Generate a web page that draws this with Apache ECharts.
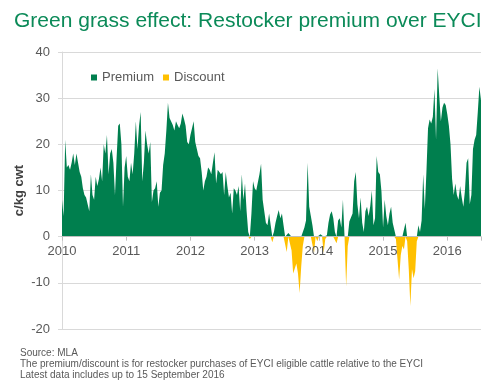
<!DOCTYPE html>
<html>
<head>
<meta charset="utf-8">
<script src="https://cdn.jsdelivr.net/npm/echarts@6/dist/echarts.min.js"></script>
<style>html,body{margin:0;padding:0;background:#fff;}#c{width:500px;height:390px;}</style>
</head>
<body>
<div id="c"></div>
<script>
// Restocker premium over EYCI (c/kg cwt), ~40 readings per year
const v2010 = [8,4.5,21,15,15.5,14.5,16,18,15.5,18,16,14,13,10.5,9,8.5,8.5,5.5,13.5,9,8,13,11,12.5,15,12,20,18,22,13.5,18,19,16,9,17,24,24.5,20,6.5,15];
const v2011 = [17.5,13,12,16,13.5,18,25,19,24,27,12,16,23,20,18,20.5,7.5,10,10.5,12,6.5,9.5,10,15.5,18,23,29,25.7,25.3,24.2,23,25,24.2,23.5,24.5,26.7,25.5,24,20.5,20];
const v2012 = [22,23.5,25,20.5,19,17.5,17,14,10,12,13,15,14.5,13.5,16,18.3,11.5,14.5,14,13.5,14,9,14,11,8.5,9.5,5,10.5,10,9,11,5.5,13.5,8,11.5,5.5,1,-0.5,5,12];
const v2013 = [10.5,10,10,13.5,15.8,8,5.5,3,2.5,5,2.5,-1.2,1,3,4.5,5.8,4,5,2.5,0,-3.3,0.8,0.5,-3,-8,-8,-5.8,-8,-12.2,-6.5,-2,2,3.5,16,6.5,4.5,2.5,-3.5,0,-1];
const v2014 = [0.3,0.5,0.5,-3.5,-0.5,0.3,3,4.8,5.5,4,1,-1.4,3.5,4,2,8,0,-10.8,-2,3.3,3.7,5,12,14,7,4,8.5,3,1,5.5,6.5,4.5,6.6,10,2.5,4,17.5,14,13.5,9.8];
const v2015 = [2,8,4.5,2.5,5,6.5,3,1.5,-0.5,-5,-9.3,-4,-2,-2.8,3,-1,-7,-15,-7,-9,-7.5,-1,2.5,1,3.5,13.5,6,14,23.5,25.4,24.5,26,32,21,36.5,30.5,25,28,29,28.5];
const v2016 = [26.5,24,20,12.5,9,11.5,9,8,11,8.5,6.5,10,16,17,7,9,19,21,22,27,32.5,29.5];

const years = [2010, 2011, 2012, 2013, 2014, 2015, 2016];
const yearValues = [v2010, v2011, v2012, v2013, v2014, v2015, v2016];
const perYear = 40;

const seriesNames = ['Premium', 'Discount'];
const yTicks = { min: -20, max: 40, step: 10 };
const xRange = { min: 2010, max: 2016.525 };

const points = [];
years.forEach((y, k) => {
  yearValues[k].forEach((v, i) => points.push([y + i / perYear, v]));
});
const premium = points.map(p => [p[0], Math.max(p[1], 0)]);
const discount = points.map(p => [p[0], Math.min(p[1], 0)]);

const gridTop = 52, gridBottom = 61, H = 390;
const plotH = H - gridTop - gridBottom;
// move the x axis (line, ticks and labels) up to the zero line
const zeroOffset = -plotH * (0 - yTicks.min) / (yTicks.max - yTicks.min);

const chart = echarts.init(document.getElementById('c'), null, { renderer: 'canvas' });
const grey = '#595959';
const ff = 'Liberation Sans, Arial, sans-serif';
chart.setOption({
  animation: false,
  backgroundColor: '#fff',
  title: {
    text: 'Green grass effect: Restocker premium over EYCI',
    left: 9, top: 6,
    textStyle: { color: '#0b8a58', fontSize: 21, fontWeight: 'normal', fontFamily: ff }
  },
  legend: {
    data: seriesNames,
    left: 86, top: 66,
    icon: 'rect', itemWidth: 6, itemHeight: 6, itemGap: 9,
    textStyle: { color: grey, fontSize: 13, fontFamily: ff }
  },
  grid: { left: 62, right: 19, top: gridTop, bottom: gridBottom, containLabel: false },
  xAxis: {
    type: 'value', min: xRange.min, max: xRange.max, interval: 1,
    offset: zeroOffset,
    axisLine: { onZero: false, lineStyle: { color: '#bfbfbf' } },
    axisTick: { show: true, length: 4, lineStyle: { color: '#bfbfbf' } },
    splitLine: { show: false },
    axisLabel: {
      color: grey, fontSize: 13, margin: 8, fontFamily: ff,
      formatter: v => (Math.abs(v - Math.round(v)) < 1e-6 ? String(Math.round(v)) : '')
    },
    z: 4
  },
  yAxis: {
    type: 'value', min: yTicks.min, max: yTicks.max, interval: yTicks.step,
    name: 'c/kg cwt', nameLocation: 'middle', nameGap: 36, nameMoveOverlap: false,
    nameTextStyle: { color: '#404040', fontSize: 13, fontWeight: 'bold', fontFamily: ff },
    axisLine: { show: true, lineStyle: { color: '#d9d9d9' } },
    axisTick: { show: true, length: 4, lineStyle: { color: '#d9d9d9' } },
    splitLine: { lineStyle: { color: '#d9d9d9', width: 1 } },
    axisLabel: { color: grey, fontSize: 13, margin: 12, fontFamily: ff }
  },
  series: [
    {
      name: seriesNames[0], type: 'line', data: premium, color: '#007f4e',
      symbol: 'none', showSymbol: false, lineStyle: { width: 0 },
      areaStyle: { color: '#007f4e', opacity: 1 }, emphasis: { disabled: true }, z: 3
    },
    {
      name: seriesNames[1], type: 'line', data: discount, color: '#ffc000',
      symbol: 'none', showSymbol: false, lineStyle: { width: 0 },
      areaStyle: { color: '#ffc000', opacity: 1 }, emphasis: { disabled: true }, z: 3
    }
  ],
  graphic: [
    { type: 'text', left: 20, top: 348, style: { text: 'Source: MLA', fill: grey, font: '10px "Liberation Sans", Arial, sans-serif' } },
    { type: 'text', left: 20, top: 359, style: { text: 'The premium/discount is for restocker purchases of EYCI eligible cattle relative to the EYCI', fill: grey, font: '10px "Liberation Sans", Arial, sans-serif' } },
    { type: 'text', left: 20, top: 370, style: { text: 'Latest data includes up to 15 September 2016', fill: grey, font: '10px "Liberation Sans", Arial, sans-serif' } }
  ]
});
</script>
</body>
</html>
